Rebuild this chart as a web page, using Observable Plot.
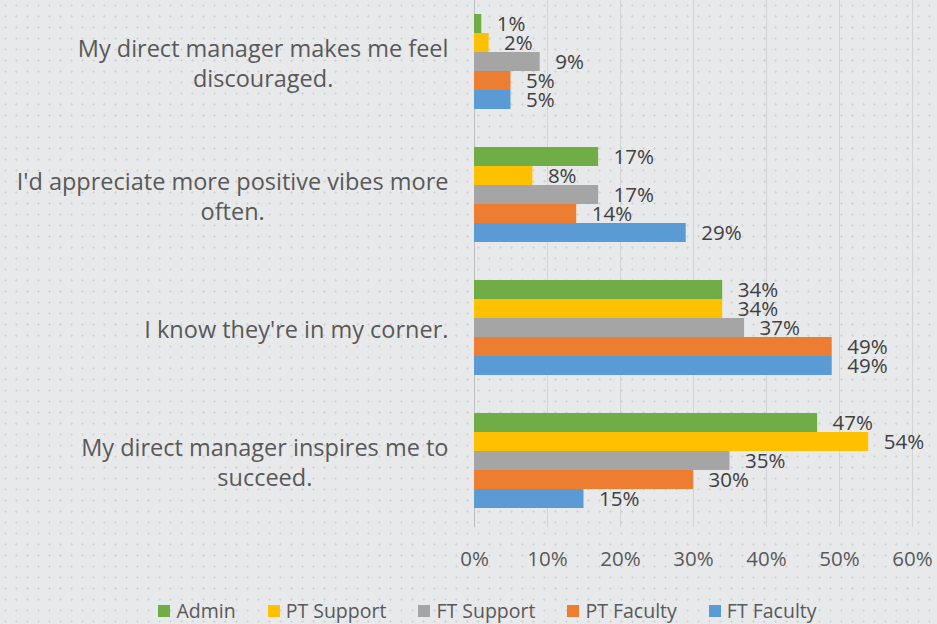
<!DOCTYPE html>
<html>
<head>
<meta charset="utf-8">
<script src="https://cdn.jsdelivr.net/npm/d3@7"></script>
<script src="https://cdn.jsdelivr.net/npm/@observablehq/plot@0.6"></script>
<style>
  html, body { margin: 0; padding: 0; }
  body {
    width: 937px; height: 624px; overflow: hidden;
    background-color: #e8e9eb;
    background-image: radial-gradient(circle, #d2d3d5 0.9px, transparent 1.4px);
    background-size: 11px 11px;
    font-family: "Open Sans", sans-serif;
  }
  #chart svg { display: block; }
  #legend {
    display: flex; justify-content: center; gap: 32px;
    padding-left: 38px; padding-top: 14px; line-height: 24px;
    font-size: 19.5px; color: #595959;
  }
  #legend .item { display: flex; align-items: center; }
  #legend .sw { width: 12px; height: 12px; margin-right: 6px; }
</style>
</head>
<body>
<div id="chart"></div>
<div id="legend"></div>
<script>
// ---- data ----
const questions = [
  "My direct manager makes me feel discouraged.",
  "I'd appreciate more positive vibes more often.",
  "I know they're in my corner.",
  "My direct manager inspires me to succeed."
];
const questionLines = [
  ["My direct manager makes me feel", "discouraged."],
  ["I'd appreciate more positive vibes more", "often."],
  ["I know they're in my corner."],
  ["My direct manager inspires me to", "succeed."]
];
const series = ["Admin", "PT Support", "FT Support", "PT Faculty", "FT Faculty"];
const seriesColors = ["#70ad47", "#ffc000", "#a5a5a5", "#ed7d31", "#5b9bd5"];
const admin      = [1, 17, 34, 47];
const ptSupport  = [2, 8, 34, 54];
const ftSupport  = [9, 17, 37, 35];
const ptFaculty  = [5, 14, 49, 30];
const ftFaculty  = [5, 29, 49, 15];
const xTicks = [0, 10, 20, 30, 40, 50, 60];

const valuesBySeries = [admin, ptSupport, ftSupport, ptFaculty, ftFaculty];
const data = [];
questions.forEach((q, qi) => {
  series.forEach((s, si) => {
    data.push({question: q, series: s, value: valuesBySeries[si][qi]});
  });
});

// measure label widths so wrapped lines are centered in a right-aligned block
const ctx = document.createElement("canvas").getContext("2d");
const labelFont = 23.5;
ctx.font = `${labelFont}px "Open Sans"`;
const labelWidths = questionLines.map(lines => Math.max(...lines.map(l => ctx.measureText(l).width)));
const labelGap = 26;

const labelMarks = questions.map((q, i) =>
  Plot.text([q], {
    fy: d => d,
    frameAnchor: "left",
    text: () => questionLines[i].join("\n"),
    textAnchor: "middle",
    lineHeight: 1.28,
    dx: -labelGap - labelWidths[i] / 2,
    fontSize: labelFont,
    fill: "#595959"
  })
);

const chart = Plot.plot({
  width: 937,
  height: 585,
  marginLeft: 474,
  marginRight: 25,
  marginTop: 0,
  marginBottom: 57,
  style: {fontFamily: "'Open Sans', sans-serif", fontSize: "20.5px", color: "#595959", background: "transparent", overflow: "visible"},
  fy: {domain: questions, paddingInner: 0.2743, paddingOuter: 0.112, align: 0.4, axis: null, label: null},
  y: {domain: series, padding: 0, axis: null, label: null},
  x: {domain: [0, 60], ticks: xTicks, tickFormat: d => d + "%", tickSize: 0, tickPadding: 42, label: null, axis: "bottom"},
  color: {domain: series, range: seriesColors},
  marks: [
    Plot.ruleX(xTicks, {stroke: "#d3d3d3", strokeWidth: 1, insetTop: -18, insetBottom: -18}),
    Plot.ruleX([0], {stroke: "#bfbfbf", strokeWidth: 1, insetTop: -18, insetBottom: -18}),
    Plot.barX(data, {fy: "question", y: "series", x: "value", fill: "series"}),
    Plot.text(data, {fy: "question", y: "series", x: "value", text: d => d.value + "%", textAnchor: "start", dx: 15, fill: "#404040", fontSize: 20.5}),
    ...labelMarks
  ]
});
document.getElementById("chart").appendChild(chart);

const legend = document.getElementById("legend");
series.forEach((s, i) => {
  const item = document.createElement("div");
  item.className = "item";
  const sw = document.createElement("span");
  sw.className = "sw";
  sw.style.background = seriesColors[i];
  const t = document.createElement("span");
  t.textContent = s;
  item.appendChild(sw);
  item.appendChild(t);
  legend.appendChild(item);
});
</script>
</body>
</html>
